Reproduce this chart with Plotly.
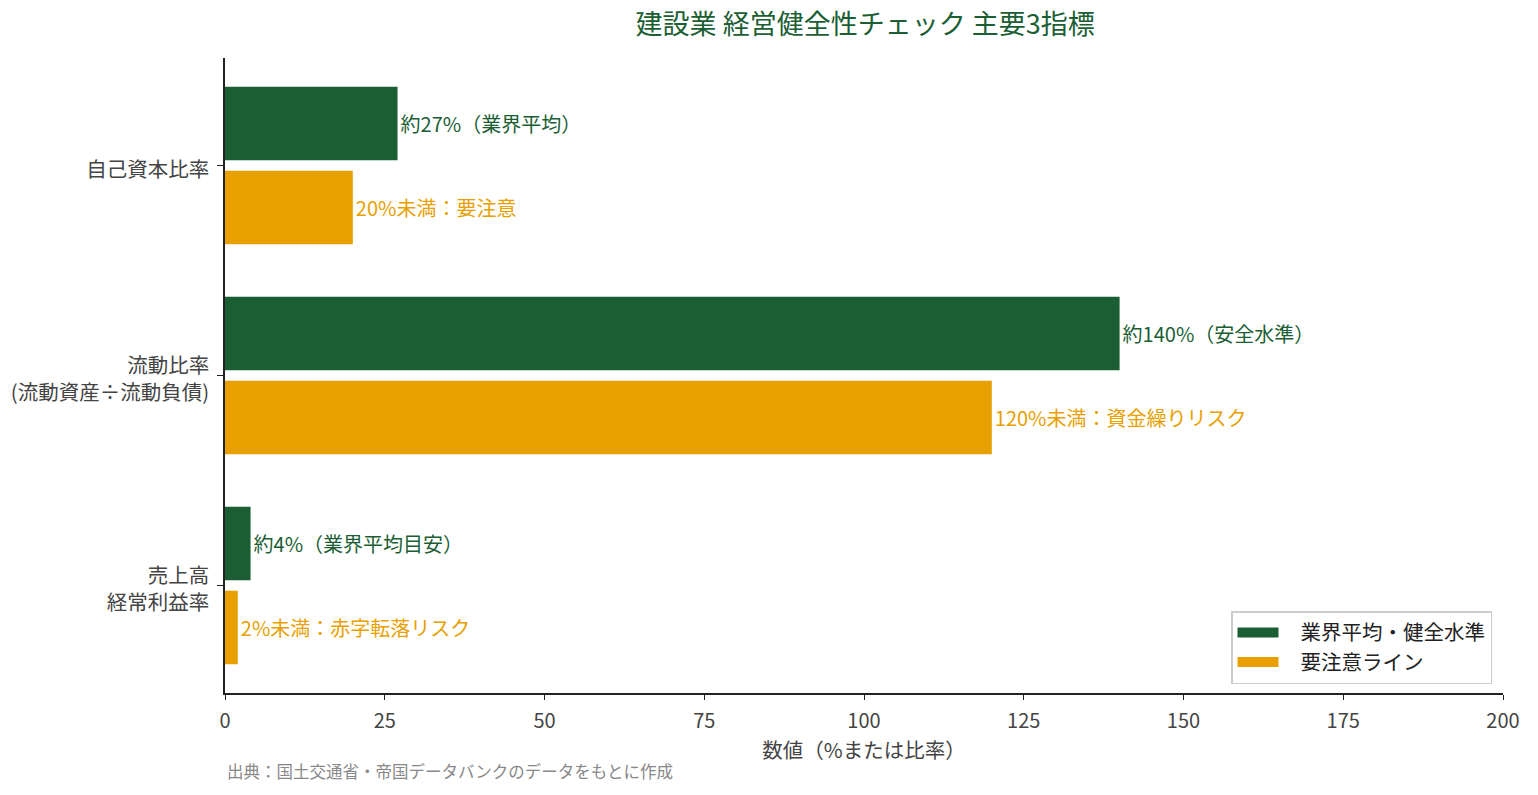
import plotly.graph_objects as go

categories = ["自己資本比率", "流動比率<br>(流動資産÷流動負債)", "売上高<br>経常利益率"]
industry_values = [27, 140, 4]
caution_values = [20, 120, 2]
industry_labels = ["約27%（業界平均）", "約140%（安全水準）", "約4%（業界平均目安）"]
caution_labels = ["20%未満：要注意", "120%未満：資金繰りリスク", "2%未満：赤字転落リスク"]
x_ticks = [0, 25, 50, 75, 100, 125, 150, 175, 200]
series_names = ["業界平均・健全水準", "要注意ライン"]

GREEN = "#1b5e34"
ORANGE = "#e8a000"
FONT = "Noto Sans CJK JP"

fig = go.Figure()
fig.add_trace(go.Bar(
    y=categories, x=industry_values, orientation="h", name=series_names[0],
    marker=dict(color=GREEN, line=dict(width=0)), showlegend=False,
    text=industry_labels, textposition="outside", cliponaxis=False,
    textfont=dict(color=GREEN, size=20, family=FONT),
))
fig.add_trace(go.Bar(
    y=categories, x=caution_values, orientation="h", name=series_names[1],
    marker=dict(color=ORANGE, line=dict(width=0)), showlegend=False,
    text=caution_labels, textposition="outside", cliponaxis=False,
    textfont=dict(color=ORANGE, size=20, family=FONT),
))
# legend entries drawn as wide swatches
for nm, col in zip(series_names, [GREEN, ORANGE]):
    fig.add_trace(go.Scatter(x=[None], y=[None], mode="lines", name=nm,
                             line=dict(color=col, width=14, dash="41px,300px"), showlegend=True))

fig.update_layout(
    width=1538, height=795,
    margin=dict(l=225, r=35, t=58, b=102),
    paper_bgcolor="white", plot_bgcolor="white",
    font=dict(family=FONT, color="#444444", size=20),
    barmode="group", bargap=0.2, bargroupgap=0.125,
    title=dict(text="建設業 経営健全性チェック 主要3指標", x=0.5625, xanchor="center",
               y=0.969, yanchor="middle",
               font=dict(size=27, color=GREEN, family=FONT)),
    xaxis=dict(range=[0, 200], tickvals=x_ticks, showgrid=False, zeroline=False,
               showline=True, linecolor="#222222", linewidth=1.5,
               ticks="outside", ticklen=5, tickcolor="#222222",
               ticklabelstandoff=4,
               tickfont=dict(size=20, color="#444444"),
               title=dict(text="数値（%または比率）", font=dict(size=20.5, color="#444444"), standoff=2)),
    yaxis=dict(range=[2.5125, -0.5125], showgrid=False, zeroline=False,
               showline=True, linecolor="#222222", linewidth=1.5,
               ticks="outside", ticklen=6, tickcolor="#222222",
               ticklabelstandoff=4, ticklabelshift=-4,
               tickfont=dict(size=20.5, color="#444444")),
    legend=dict(x=0.9914, y=0.014, xanchor="right", yanchor="bottom",
                bgcolor="white", bordercolor="#cccccc", borderwidth=1.5,
                font=dict(size=20.5, color="#222222"), traceorder="normal",
                itemwidth=58),
)
fig.add_annotation(text="出典：国土交通省・帝国データバンクのデータをもとに作成",
                   xref="paper", yref="paper", x=0.0, y=-0.1228, xanchor="left", yanchor="middle",
                   showarrow=False, font=dict(size=16.5, color="#888888", family=FONT))

fig.write_html("out.html")
